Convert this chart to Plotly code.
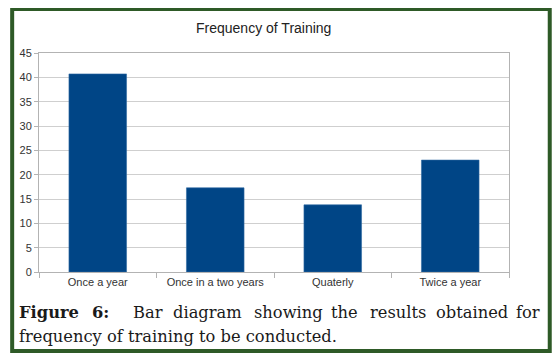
import plotly.graph_objects as go

categories = ["Once a year", "Once in a two years", "Quaterly", "Twice a year"]
values = [40.7, 17.3, 13.8, 23.0]
y_ticks = [0, 5, 10, 15, 20, 25, 30, 35, 40, 45]
title_text = "Frequency of Training"
caption_line1 = [("<b>Figure</b>", 17), ("<b>6:</b>", 90), ("Bar", 132), ("diagram", 172),
                 ("showing", 253), ("the", 331), ("results", 370), ("obtained", 437), ("for", 517)]
caption_line2 = "frequency of training to be conducted."

# page body has an 8px margin; work in window pixels and shift
OFF = 8
W, H = 560 - OFF, 358 - OFF
ML, MR, MT, MB = 36 - OFF, 560 - 509, 53 - OFF, 358 - 272
PW, PH = W - ML - MR, H - MT - MB


def px(x):
    return (x - OFF - ML) / PW


def py(y):
    return 1 - (y - OFF - MT) / PH


fig = go.Figure(go.Bar(
    x=categories, y=values, width=0.49,
    marker=dict(color="#004586", line=dict(color="#2f6aa3", width=0.6)),
))

cap_font = dict(family="DejaVu Serif, serif", size=16.3, color="#1a1a1a")
annotations = [dict(text=title_text, x=px(262), y=py(28), xref="paper", yref="paper",
                    showarrow=False, xanchor="center", yanchor="middle",
                    font=dict(family="Liberation Sans, Arial", size=14, color="#222"))]
for word, x0 in caption_line1:
    annotations.append(dict(text=word, x=px(x0 - 3), y=py(312), xref="paper", yref="paper",
                            showarrow=False, xanchor="left", yanchor="middle", font=cap_font))
annotations.append(dict(text=caption_line2, x=px(17 - 3), y=py(336), xref="paper", yref="paper",
                        showarrow=False, xanchor="left", yanchor="middle", font=cap_font))

fig.update_layout(
    width=W, height=H,
    margin=dict(l=ML, r=MR, t=MT, b=MB, pad=0),
    paper_bgcolor="white", plot_bgcolor="white",
    showlegend=False,
    annotations=annotations,
    shapes=[dict(type="rect", xref="paper", yref="paper",
                 x0=px(9), x1=px(550), y0=py(351), y1=py(9),
                 line=dict(color="#2e5a27", width=4), fillcolor="rgba(0,0,0,0)", layer="above")],
    font=dict(family="Liberation Sans, Arial", size=11, color="#333"),
)
fig.update_yaxes(range=[0, 45], tickvals=y_ticks, showgrid=True, gridcolor="#cfcfcf",
                 showline=True, linecolor="#b3b3b3", mirror=True, ticks="outside",
                 ticklen=4, tickcolor="#b3b3b3", zeroline=False,
                 tickfont=dict(size=11, color="#333"))
fig.update_xaxes(showline=True, linecolor="#b3b3b3", mirror=True, ticks="outside",
                 tickson="boundaries", ticklen=5, tickcolor="#b3b3b3",
                 tickfont=dict(size=11, color="#333"))

fig.write_html("out.html")
